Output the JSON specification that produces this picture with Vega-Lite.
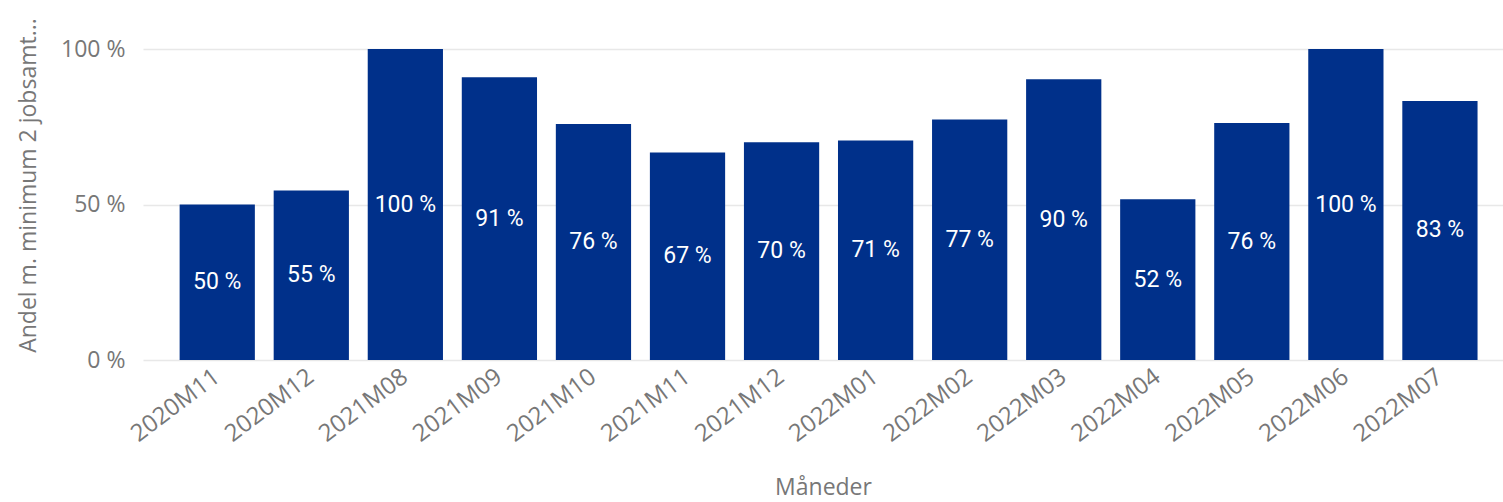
{
  "$schema": "https://vega.github.io/schema/vega-lite/v6.json",
  "autosize": {"type": "none"},
  "width": 1360,
  "height": 311,
  "padding": {"left": 143, "top": 49, "right": 0, "bottom": 142},
  "background": "white",
  "config": {
    "view": {"stroke": null},
    "font": "Open Sans"
  },
  "data": {
    "values": [
      {"maaned": "2020M11", "andel": 50.0},
      {"maaned": "2020M12", "andel": 54.5},
      {"maaned": "2021M08", "andel": 100},
      {"maaned": "2021M09", "andel": 90.9},
      {"maaned": "2021M10", "andel": 75.9},
      {"maaned": "2021M11", "andel": 66.7},
      {"maaned": "2021M12", "andel": 70.0},
      {"maaned": "2022M01", "andel": 70.6},
      {"maaned": "2022M02", "andel": 77.3},
      {"maaned": "2022M03", "andel": 90.3},
      {"maaned": "2022M04", "andel": 51.7},
      {"maaned": "2022M05", "andel": 76.2},
      {"maaned": "2022M06", "andel": 100},
      {"maaned": "2022M07", "andel": 83.3}
    ]
  },
  "encoding": {
    "x": {
      "field": "maaned",
      "type": "nominal",
      "sort": null,
      "scale": {"paddingInner": 0.2, "paddingOuter": 0.33, "align": 0.59},
      "axis": {
        "title": "Måneder",
        "titleColor": "#777777",
        "titleFontSize": 23,
        "titleFontWeight": "normal",
        "titleBaseline": "top",
        "titleY": 116,
        "labelAngle": -37,
        "labelAlign": "right",
        "labelBaseline": "middle",
        "labelFontSize": 24,
        "labelColor": "#777777",
        "labelPadding": 14,
        "domain": false,
        "ticks": false
      }
    }
  },
  "layer": [
    {
      "mark": {"type": "bar", "color": "#00308A"},
      "encoding": {
        "y": {
          "field": "andel",
          "type": "quantitative",
          "scale": {"domain": [0, 100], "nice": false},
          "axis": {
            "title": "Andel m. minimum 2 jobsamt...",
            "titleColor": "#777777",
            "titleFontSize": 23,
            "titleFontWeight": "normal",
            "titlePadding": 20,
            "titleY": 136,
            "values": [0, 50, 100],
            "labelExpr": "datum.value + ' %'",
            "labelFontSize": 23,
            "labelColor": "#777777",
            "labelPadding": 18,
            "domain": false,
            "ticks": false,
            "grid": true,
            "gridColor": "#e8e8e8",
            "gridWidth": 1.5
          }
        }
      }
    },
    {
      "mark": {"type": "text", "color": "white", "font": "Roboto", "fontSize": 23, "baseline": "middle", "text": {"expr": "format(datum.andel, '.0f') + ' %'"}},
      "encoding": {
        "y": {"field": "andel", "type": "quantitative", "scale": {"domain": [0, 200], "nice": false}, "axis": null}
      }
    }
  ],
  "resolve": {"scale": {"y": "independent"}}
}
